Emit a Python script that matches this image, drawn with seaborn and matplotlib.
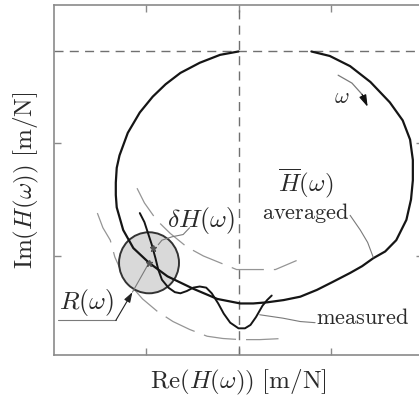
import numpy as np
import pandas as pd
import matplotlib
matplotlib.use("Agg")
import matplotlib.pyplot as plt
import seaborn as sns
from matplotlib.patches import Ellipse

# ---------------- data (arbitrary units) ----------------
avg_re = [2.79, 2.99, 3.21, 3.43, 3.64, 3.78, 3.86, 3.89, 3.89, 3.87, 3.82, 3.71,
          3.59, 3.46, 3.34, 3.21, 3.02, 2.85, 2.67, 2.49, 2.31, 2.16, 2.02, 1.77,
          1.51, 1.23, 1.03, 0.86, 0.75, 0.68, 0.67, 0.67, 0.68, 0.71, 0.80, 0.93,
          1.07, 1.21, 1.37, 1.58, 1.80, 2.00]
avg_im = [2.81, 2.77, 2.68, 2.54, 2.36, 2.20, 2.03, 1.85, 1.67, 1.50, 1.32, 1.14,
          1.04, 0.98, 0.91, 0.85, 0.77, 0.70, 0.64, 0.61, 0.59, 0.58, 0.58, 0.62,
          0.71, 0.82, 0.94, 1.07, 1.23, 1.43, 1.54, 1.65, 1.78, 1.89, 2.09, 2.27,
          2.41, 2.52, 2.62, 2.71, 2.78, 2.81]

meas_re = [0.93, 0.98, 1.02, 1.06, 1.10, 1.13, 1.17, 1.24, 1.31, 1.37, 1.44, 1.51,
           1.58, 1.65, 1.71, 1.78, 1.84, 1.91, 2.00, 2.07, 2.13, 2.19, 2.26, 2.31, 2.36]
meas_im = [1.38, 1.30, 1.20, 1.10, 0.98, 0.88, 0.79, 0.72, 0.68, 0.67, 0.69, 0.72,
           0.73, 0.72, 0.67, 0.58, 0.49, 0.41, 0.36, 0.36, 0.39, 0.46, 0.56, 0.61, 0.65]

inner_re = [0.90, 0.98, 1.11, 1.26, 1.44, 1.62, 1.80, 1.98, 2.16, 2.40, 2.63]
inner_im = [1.60, 1.47, 1.32, 1.20, 1.08, 1.00, 0.94, 0.88, 0.88, 0.88, 0.96]

outer_re = [0.47, 0.53, 0.61, 0.66, 0.72, 0.82, 0.96, 1.12, 1.29, 1.47, 1.66, 1.83,
            2.02, 2.23, 2.48]
outer_im = [1.38, 1.25, 1.14, 0.99, 0.88, 0.75, 0.62, 0.51, 0.42, 0.35, 0.29, 0.27,
            0.26, 0.26, 0.27]

mean_pt = (1.03, 0.94)        # averaged value at one frequency
meas_pt = (1.07, 1.07)        # measured value at that frequency
radius_re, radius_im = 0.325, 0.27

top_level = 2.81              # dashed horizontal line
centre_re = 2.0               # dashed vertical line

x_ticks = [1, 2, 3]
y_ticks = [1, 2]

# leader lines
avg_lead_re = [3.21, 3.32, 3.40, 3.46]
avg_lead_im = [1.36, 1.23, 1.12, 0.99]
meas_lead_re = [2.23, 2.48, 2.67, 2.83]
meas_lead_im = [0.48, 0.45, 0.42, 0.41]
dh_lead_re = [1.47, 1.40, 1.28, 1.17, 1.13]
dh_lead_im = [1.25, 1.19, 1.17, 1.14, 1.10]
r_lead_re = [0.04, 0.67]
r_lead_im = [0.43, 0.43]
r_tip = (0.85, 0.68)
omega_re = [3.08, 3.23, 3.34, 3.40]
omega_im = [2.60, 2.53, 2.43, 2.32]

# ---------------- style ----------------
sns.set_style("ticks")
plt.rcParams["mathtext.fontset"] = "cm"
plt.rcParams["font.family"] = ["DejaVu Serif"]

fig = plt.figure(figsize=(4.19, 4.01), dpi=100)
ax = fig.add_axes([54 / 419, 46 / 401, 369 / 419, 350 / 401])

spine_c = "#8a8a8a"
dash_c = "#707070"
arc_c = "#959595"
lead_c = "#7a7a7a"

ax.axhline(top_level, color=dash_c, lw=1.0, ls=(0, (6.5, 4.5)), zorder=1)
ax.axvline(centre_re, color=dash_c, lw=1.0, ls=(0, (6.5, 4.5)), zorder=1)

circ = Ellipse(mean_pt, 2 * radius_re, 2 * radius_im, fc="#d9d9d9", ec="#333333",
               lw=1.4, zorder=2)
ax.add_patch(circ)

df_avg = pd.DataFrame({"re": avg_re, "im": avg_im})
df_meas = pd.DataFrame({"re": meas_re, "im": meas_im})
df_in = pd.DataFrame({"re": inner_re, "im": inner_im})
df_out = pd.DataFrame({"re": outer_re, "im": outer_im})

sns.lineplot(data=df_in, x="re", y="im", sort=False, estimator=None, ax=ax,
             color=arc_c, lw=0.9, zorder=1.5)
ax.lines[-1].set_linestyle((0, (26, 8)))
sns.lineplot(data=df_out, x="re", y="im", sort=False, estimator=None, ax=ax,
             color=arc_c, lw=0.9, zorder=1.5)
ax.lines[-1].set_linestyle((0, (26, 8)))
sns.lineplot(data=df_avg, x="re", y="im", sort=False, estimator=None, ax=ax,
             color="#151515", lw=1.6, zorder=3)
sns.lineplot(data=df_meas, x="re", y="im", sort=False, estimator=None, ax=ax,
             color="#151515", lw=1.4, zorder=3)
for ln in ax.lines[-2:]:
    ln.set_solid_joinstyle("round")
    ln.set_solid_capstyle("round")

# points
ax.plot(*mean_pt, marker="*", ms=5, color="#555555", zorder=4)
ax.plot(*meas_pt, marker="*", ms=5, color="#555555", zorder=4)

# leaders
ax.plot(avg_lead_re, avg_lead_im, color=lead_c, lw=0.8, zorder=3)
ax.plot(meas_lead_re, meas_lead_im, color=lead_c, lw=0.8, zorder=3)
ax.plot(dh_lead_re, dh_lead_im, color=lead_c, lw=0.8, zorder=3)
ax.plot(r_lead_re, r_lead_im, color=lead_c, lw=0.8, zorder=3)
ax.plot([r_tip[0], mean_pt[0]], [r_tip[1], mean_pt[1]], color=lead_c, lw=0.8, zorder=3)
ax.annotate("", xy=r_tip, xytext=(r_lead_re[-1], r_lead_im[-1]),
            arrowprops=dict(arrowstyle="-|>,head_length=0.6,head_width=0.2",
                            color="#222222", lw=0.8, shrinkA=0, shrinkB=0), zorder=4)
ax.plot(omega_re[:-1], omega_im[:-1], color=lead_c, lw=0.9, zorder=3)
ax.annotate("", xy=(omega_re[-1], omega_im[-1]), xytext=(omega_re[-2], omega_im[-2]),
            arrowprops=dict(arrowstyle="-|>,head_length=0.7,head_width=0.22",
                            color="#111111", lw=0.9, shrinkA=0, shrinkB=0), zorder=4)

# texts
tc = "#2a2a2a"
ax.text(2.73, 1.50, r"$\overline{H}(\omega)$", fontsize=18, ha="center", va="bottom", color=tc)
ax.text(2.73, 1.49, r"$\mathrm{averaged}$", fontsize=16, ha="center", va="top", color=tc)
ax.text(3.34, 0.45, r"$\mathrm{measured}$", fontsize=16, ha="center", va="center", color=tc)
ax.text(1.59, 1.31, r"$\delta H(\omega)$", fontsize=18.5, ha="center", va="center", color=tc)
ax.text(0.35, 0.585, r"$R(\omega)$", fontsize=18.5, ha="center", va="center", color=tc)
ax.text(3.12, 2.41, r"$\omega$", fontsize=16, ha="center", va="center", color=tc)

ax.set_xlim(0, 4)
ax.set_ylim(1 - 99 / 113, 2 + 138 / 113)
ax.set_xticks(x_ticks)
ax.set_yticks(y_ticks)
ax.set_xticklabels([])
ax.set_yticklabels([])
ax.tick_params(direction="in", length=5, width=1, color=spine_c, top=True, right=True)
for s in ax.spines.values():
    s.set_color(spine_c)
    s.set_linewidth(1.2)
ax.set_xlabel(r"$\mathrm{Re}(H(\omega))\ [\mathrm{m/N}]$", fontsize=18, color=tc, labelpad=6)
ax.set_ylabel(r"$\mathrm{Im}(H(\omega))\ [\mathrm{m/N}]$", fontsize=18, color=tc, labelpad=6)

fig.savefig("out.png", dpi=100)
